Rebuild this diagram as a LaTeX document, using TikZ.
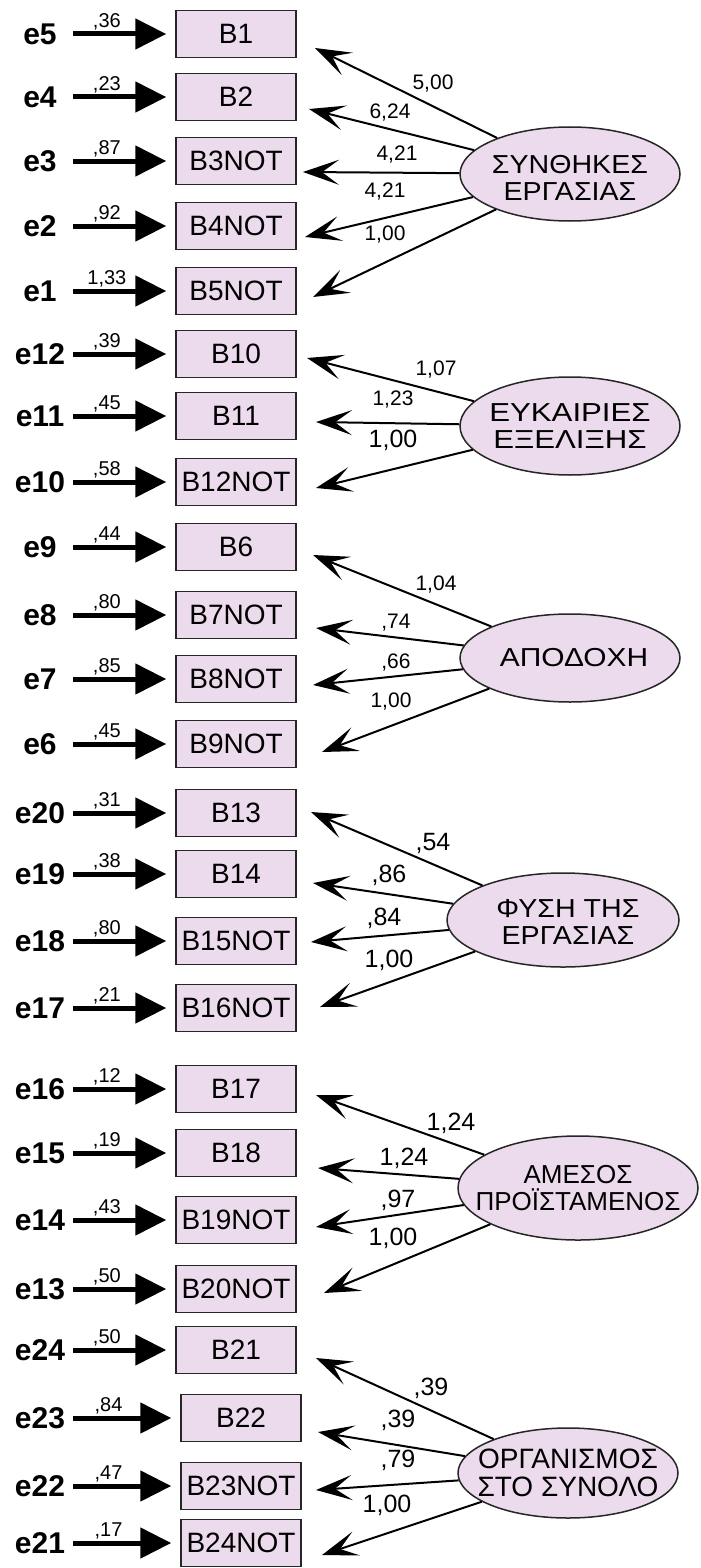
\documentclass[tikz,border=0pt]{standalone}
\usepackage{fontspec}
\setmainfont{Liberation Sans}
\usetikzlibrary{arrows.meta,shapes.geometric}
\definecolor{itempink}{RGB}{236,219,236}
\def\wide#1#2{\scalebox{#1}[1]{#2}}
\tikzset{
	itembox/.style={draw=black!85, line width=1.5pt, fill=itempink, minimum width=120pt, minimum height=47pt, inner sep=0pt, font=\fontsize{28}{28}\selectfont},
	errlab/.style={minimum width=66pt, inner sep=0pt, font=\fontsize{30}{30}\selectfont\bfseries},
	errarrow/.style={line width=5pt, -{Triangle[length=31pt,width=30pt]}, shorten >=9pt},
	varlab/.style={above, pos=0.33, inner sep=1.5pt, font=\fontsize{20}{20}\selectfont},
	factor/.style={ellipse, draw=black!85, line width=1.5pt, fill=itempink, inner sep=0pt},
	factortext/.style={align=center, inner sep=0pt, font=\fontsize{26}{27}\selectfont},
	loadarrow/.style={line width=2pt, -{Stealth[length=36pt,width=25pt,inset=17pt]}},
	loadsmall/.style={inner sep=0pt, font=\fontsize{21}{21}\selectfont},
	loadbig/.style={inner sep=0pt, font=\fontsize{25}{25}\selectfont}
}

\begin{document}
\begin{tikzpicture}[x=1pt, y=-1pt]
			%%%%% START %%%%%
			\useasboundingbox (0,0) rectangle (701,1568);
			
			% items and error terms
			\node[itembox] (B1) at (236, 34) {B1};
			\node[errlab] (e5) at (40, 34) {e5};
			\draw[errarrow] (e5) -- node[varlab] (v5) {,36} (B1);
			\node[itembox] (B2) at (236, 97) {B2};
			\node[errlab] (e4) at (40, 97) {e4};
			\draw[errarrow] (e4) -- node[varlab] (v4) {,23} (B2);
			\node[itembox] (B3) at (236, 161) {B3NOT};
			\node[errlab] (e3) at (40, 161) {e3};
			\draw[errarrow] (e3) -- node[varlab] (v3) {,87} (B3);
			\node[itembox] (B4) at (236, 226) {B4NOT};
			\node[errlab] (e2) at (40, 226) {e2};
			\draw[errarrow] (e2) -- node[varlab] (v2) {,92} (B4);
			\node[itembox] (B5) at (236, 291) {B5NOT};
			\node[errlab] (e1) at (40, 291) {e1};
			\draw[errarrow] (e1) -- node[varlab] (v1) {1,33} (B5);
			
			\node[itembox] (B10) at (236, 354) {B10};
			\node[errlab] (e12) at (40, 354) {e12};
			\draw[errarrow] (e12) -- node[varlab] (v12) {,39} (B10);
			\node[itembox] (B11) at (236, 416) {B11};
			\node[errlab] (e11) at (40, 416) {e11};
			\draw[errarrow] (e11) -- node[varlab] (v11) {,45} (B11);
			\node[itembox] (B12) at (236, 482) {B12NOT};
			\node[errlab] (e10) at (40, 482) {e10};
			\draw[errarrow] (e10) -- node[varlab] (v10) {,58} (B12);
			
			\node[itembox] (B6) at (236, 547) {B6};
			\node[errlab] (e9) at (40, 547) {e9};
			\draw[errarrow] (e9) -- node[varlab] (v9) {,44} (B6);
			\node[itembox] (B7) at (236, 615) {B7NOT};
			\node[errlab] (e8) at (40, 615) {e8};
			\draw[errarrow] (e8) -- node[varlab] (v8) {,80} (B7);
			\node[itembox] (B8) at (236, 679) {B8NOT};
			\node[errlab] (e7) at (40, 679) {e7};
			\draw[errarrow] (e7) -- node[varlab] (v7) {,85} (B8);
			\node[itembox] (B9) at (236, 744) {B9NOT};
			\node[errlab] (e6) at (40, 744) {e6};
			\draw[errarrow] (e6) -- node[varlab] (v6) {,45} (B9);
			
			\node[itembox] (B13) at (236, 813) {B13};
			\node[errlab] (e20) at (40, 813) {e20};
			\draw[errarrow] (e20) -- node[varlab] (v20) {,31} (B13);
			\node[itembox] (B14) at (236, 874) {B14};
			\node[errlab] (e19) at (40, 874) {e19};
			\draw[errarrow] (e19) -- node[varlab] (v19) {,38} (B14);
			\node[itembox] (B15) at (236, 941) {B15NOT};
			\node[errlab] (e18) at (40, 941) {e18};
			\draw[errarrow] (e18) -- node[varlab] (v18) {,80} (B15);
			\node[itembox] (B16) at (236, 1008) {B16NOT};
			\node[errlab] (e17) at (40, 1008) {e17};
			\draw[errarrow] (e17) -- node[varlab] (v17) {,21} (B16);
			
			\node[itembox] (B17) at (236, 1089) {B17};
			\node[errlab] (e16) at (40, 1089) {e16};
			\draw[errarrow] (e16) -- node[varlab] (v16) {,12} (B17);
			\node[itembox] (B18) at (236, 1153) {B18};
			\node[errlab] (e15) at (40, 1153) {e15};
			\draw[errarrow] (e15) -- node[varlab] (v15) {,19} (B18);
			\node[itembox] (B19) at (236, 1220) {B19NOT};
			\node[errlab] (e14) at (40, 1220) {e14};
			\draw[errarrow] (e14) -- node[varlab] (v14) {,43} (B19);
			\node[itembox] (B20) at (236, 1289) {B20NOT};
			\node[errlab] (e13) at (40, 1289) {e13};
			\draw[errarrow] (e13) -- node[varlab] (v13) {,50} (B20);
			
			\node[itembox] (B21) at (236, 1350) {B21};
			\node[errlab] (e24) at (40, 1350) {e24};
			\draw[errarrow] (e24) -- node[varlab] (v24) {,50} (B21);
			\node[itembox] (B22) at (241, 1418) {B22};
			\node[errlab] (e23) at (40, 1418) {e23};
			\draw[errarrow] (e23) -- node[varlab] (v23) {,84} (B22);
			\node[itembox] (B23) at (241, 1486) {B23NOT};
			\node[errlab] (e22) at (40, 1486) {e22};
			\draw[errarrow] (e22) -- node[varlab] (v22) {,47} (B23);
			\node[itembox] (B24) at (241, 1543) {B24NOT};
			\node[errlab] (e21) at (40, 1543) {e21};
			\draw[errarrow] (e21) -- node[varlab] (v21) {,17} (B24);
			
			% factors
			\node[factor, minimum width=220pt, minimum height=94pt] (F1) at (570, 174) {};
			\node[factortext] (F1t) at (570, 178) {\wide{1.1}{ΣΥΝΘΗΚΕΣ}\\\wide{1.1}{ΕΡΓΑΣΙΑΣ}};
			\coordinate (tB1) at (315, 48);
			\coordinate (tB2) at (309, 109);
			\coordinate (tB3) at (303, 172);
			\coordinate (tB4) at (305, 237);
			\coordinate (tB5) at (313, 297);
			\draw[loadarrow] (F1) -- (tB1);
			\draw[loadarrow] (F1) -- (tB2);
			\draw[loadarrow] (F1) -- (tB3);
			\draw[loadarrow] (F1) -- (tB4);
			\draw[loadarrow] (F1) -- (tB5);
			\node[loadsmall] (wB1) at (433, 84) {5,00};
			\node[loadsmall] (wB2) at (390, 113) {6,24};
			\node[loadsmall] (wB3) at (397, 155) {4,21};
			\node[loadsmall] (wB4) at (385, 192) {4,21};
			\node[loadsmall] (wB5) at (385, 235) {1,00};
			
			\node[factor, minimum width=220pt, minimum height=98pt] (F2) at (570, 426) {};
			\node[factortext] (F2t) at (F2) {\wide{1.2}{ΕΥΚΑΙΡΙΕΣ}\\\wide{1.2}{ΕΞΕΛΙΞΗΣ}};
			\coordinate (tB10) at (307, 358);
			\coordinate (tB11) at (316, 422);
			\coordinate (tB12) at (316, 488);
			\draw[loadarrow] (F2) -- (tB10);
			\draw[loadarrow] (F2) -- (tB11);
			\draw[loadarrow] (F2) -- (tB12);
			\node[loadsmall] (wB10) at (436, 370) {1,07};
			\node[loadsmall] (wB11) at (393, 400) {1,23};
			\node[loadbig] (wB12) at (393, 440) {1,00};
			
			\node[factor, minimum width=220pt, minimum height=88pt] (F3) at (570, 658) {};
			\node[factortext] (F3t) at (574, 658) {\wide{1.15}{ΑΠΟΔΟΧΗ}};
			\coordinate (tB6) at (313, 555);
			\coordinate (tB7) at (316, 628);
			\coordinate (tB8) at (313, 685);
			\coordinate (tB9) at (322, 752);
			\draw[loadarrow] (F3) -- (tB6);
			\draw[loadarrow] (F3) -- (tB7);
			\draw[loadarrow] (F3) -- (tB8);
			\draw[loadarrow] (F3) -- (tB9);
			\node[loadsmall] (wB6) at (436, 585) {1,04};
			\node[loadsmall] (wB7) at (396, 623) {,74};
			\node[loadsmall] (wB8) at (396, 663) {,66};
			\node[loadsmall] (wB9) at (391, 702) {1,00};
			
			\node[factor, minimum width=232pt, minimum height=94pt] (F4) at (563, 920) {};
			\node[factortext] (F4t) at (568, 922) {\wide{1.1}{ΦΥΣΗ ΤΗΣ}\\\wide{1.1}{ΕΡΓΑΣΙΑΣ}};
			\coordinate (tB13) at (311, 812);
			\coordinate (tB14) at (313, 883);
			\coordinate (tB15) at (311, 942);
			\coordinate (tB16) at (320, 1007);
			\draw[loadarrow] (F4) -- (tB13);
			\draw[loadarrow] (F4) -- (tB14);
			\draw[loadarrow] (F4) -- (tB15);
			\draw[loadarrow] (F4) -- (tB16);
			\node[loadbig] (wB13) at (433, 843) {,54};
			\node[loadbig] (wB14) at (389, 875) {,86};
			\node[loadbig] (wB15) at (384, 918) {,84};
			\node[loadbig] (wB16) at (389, 960) {1,00};
			
			\node[factor, minimum width=240pt, minimum height=104pt] (F5) at (578, 1188) {};
			\node[factortext] (F5t) at (F5) {ΑΜΕΣΟΣ\\ΠΡΟΪΣΤΑΜΕΝΟΣ};
			\coordinate (tB17) at (316, 1095);
			\coordinate (tB18) at (318, 1168);
			\coordinate (tB19) at (316, 1227);
			\coordinate (tB20) at (324, 1293);
			\draw[loadarrow] (F5) -- (tB17);
			\draw[loadarrow] (F5) -- (tB18);
			\draw[loadarrow] (F5) -- (tB19);
			\draw[loadarrow] (F5) -- (tB20);
			\node[loadbig] (wB17) at (451, 1123) {1,24};
			\node[loadbig] (wB18) at (404, 1158) {1,24};
			\node[loadbig] (wB19) at (398, 1200) {,97};
			\node[loadbig] (wB20) at (393, 1238) {1,00};
			
			\node[factor, minimum width=220pt, minimum height=90pt] (F6) at (568, 1473) {};
			\node[factortext, font=\fontsize{28}{28}\selectfont] (F6t) at (F6) {ΟΡΓΑΝΙΣΜΟΣ\\ΣΤΟ ΣΥΝΟΛΟ};
			\coordinate (tB21) at (316, 1358);
			\coordinate (tB22) at (318, 1432);
			\coordinate (tB23) at (316, 1490);
			\coordinate (tB24) at (322, 1555);
			\draw[loadarrow] (F6) -- (tB21);
			\draw[loadarrow] (F6) -- (tB22);
			\draw[loadarrow] (F6) -- (tB23);
			\draw[loadarrow] (F6) -- (tB24);
			\node[loadbig] (wB21) at (431, 1388) {,39};
			\node[loadbig] (wB22) at (398, 1420) {,39};
			\node[loadbig] (wB23) at (398, 1460) {,79};
			\node[loadbig] (wB24) at (387, 1505) {1,00};
			
			%%%%% END %%%%%
\end{tikzpicture}
\end{document}
